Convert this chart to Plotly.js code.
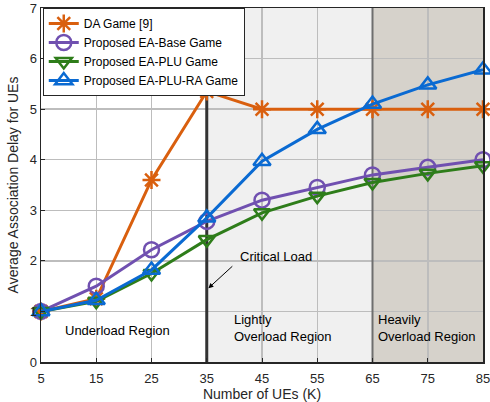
<!DOCTYPE html>
<html>
<head>
<meta charset="utf-8">
<script src="https://cdn.plot.ly/plotly-3.0.1.min.js"></script>
<style>html,body{margin:0;padding:0;background:#fff;}#chart{width:490px;height:402px;}</style>
</head>
<body>
<div id="chart"></div>
<script>
const ues = [5, 15, 25, 35, 45, 55, 65, 75, 85];
const seriesNames = ["DA Game [9]", "Proposed EA-Base Game", "Proposed EA-PLU Game", "Proposed EA-PLU-RA Game"];
const daGame = [1.0, 1.25, 3.6, 5.35, 5.0, 5.0, 5.0, 5.0, 5.0];
const eaBase = [1.0, 1.5, 2.22, 2.78, 3.2, 3.45, 3.7, 3.85, 4.0];
const eaPlu = [1.0, 1.2, 1.75, 2.42, 2.95, 3.28, 3.55, 3.73, 3.88];
const eaPluRa = [1.0, 1.22, 1.82, 2.85, 3.97, 4.6, 5.1, 5.48, 5.78];
const xTicks = [5, 15, 25, 35, 45, 55, 65, 75, 85];
const yTicks = [0, 1, 2, 3, 4, 5, 6, 7];

const colors = ["#d95f0e", "#7050b0", "#2e7d1a", "#0a6ad2"];
const symbols = ["asterisk-open", "circle-open", "triangle-down-open", "triangle-up-open"];
const sizes = [15, 15, 14, 15];
const allSeries = [daGame, eaBase, eaPlu, eaPluRa];

const traces = allSeries.map((ys, i) => ({
  x: ues, y: ys, name: seriesNames[i], type: "scatter", mode: "lines+markers",
  cliponaxis: false,
  line: {color: colors[i], width: 3},
  marker: {symbol: symbols[i], size: sizes[i], color: colors[i],
           line: {color: colors[i], width: 2.5}}
}));

const font = "Liberation Sans, Arial, sans-serif";
const layout = {
  width: 490, height: 402,
  margin: {l: 41, r: 7, t: 8, b: 40},
  paper_bgcolor: "#ffffff", plot_bgcolor: "#ffffff",
  font: {family: font, size: 13, color: "#262626"},
  showlegend: true,
  legend: {x: 0.004, y: 1.0, xanchor: "left", yanchor: "top",
           bgcolor: "#ffffff", bordercolor: "#262626", borderwidth: 1,
           font: {family: font, size: 12, color: "#000"},
           tracegroupgap: 0, itemwidth: 30},
  xaxis: {range: [5, 85], tickvals: xTicks, ticktext: xTicks.map(String),
          ticklabeloverflow: "allow",
          showgrid: true, gridcolor: "#bdbdbd", gridwidth: 1.5,
          zeroline: false, showline: true, linecolor: "#262626", linewidth: 1.5, mirror: true,
          ticks: "inside", ticklen: 4, tickcolor: "#262626", ticklabelstandoff: 4,
          tickfont: {size: 13, color: "#262626"},
          title: {text: "Number of UEs (K)", font: {size: 14, color: "#262626"}, standoff: 2}},
  yaxis: {range: [0, 7], tickvals: yTicks, ticktext: yTicks.map(String),
          ticklabeloverflow: "allow",
          showgrid: true, gridcolor: "#bdbdbd", gridwidth: 1.5,
          zeroline: false, showline: true, linecolor: "#262626", linewidth: 1.5, mirror: true,
          ticks: "inside", ticklen: 4, tickcolor: "#262626",
          tickfont: {size: 13, color: "#262626"},
          title: {text: "Average Association Delay for UEs", font: {size: 14, color: "#262626"}, standoff: 8}},
  shapes: [
    {type: "rect", xref: "x", yref: "y", x0: 35, x1: 65, y0: 0, y1: 7, layer: "below",
     fillcolor: "#f0f0f0", line: {width: 0}},
    {type: "rect", xref: "x", yref: "y", x0: 65, x1: 85, y0: 0, y1: 7, layer: "below",
     fillcolor: "#d6d2cb", line: {width: 0}},
    {type: "line", xref: "x", yref: "y", x0: 35, x1: 35, y0: 0, y1: 7, layer: "between",
     line: {color: "#333333", width: 3}},
    {type: "line", xref: "x", yref: "y", x0: 65, x1: 65, y0: 0, y1: 7, layer: "between",
     line: {color: "#6e6e6e", width: 2}}
  ],
  annotations: [
    {x: 40.6, y: 2.08, xref: "x", yref: "y", text: "Critical Load", showarrow: false,
     xanchor: "left", yanchor: "middle", font: {size: 13, color: "#000"}},
    {x: 35.3, y: 1.46, xref: "x", yref: "y", ax: 39.9, ay: 1.92, axref: "x", ayref: "y",
     text: "", showarrow: true, arrowhead: 2, arrowsize: 1, arrowwidth: 1, arrowcolor: "#000"},
    {x: 18.9, y: 0.63, xref: "x", yref: "y", text: "Underload Region", showarrow: false,
     xanchor: "center", yanchor: "middle", font: {size: 13, color: "#000"}},
    {x: 39.6, y: 0.67, xref: "x", yref: "y", text: "Lightly<br>Overload Region", showarrow: false,
     xanchor: "left", yanchor: "middle", align: "left", font: {size: 13, color: "#000"}},
    {x: 65.6, y: 0.67, xref: "x", yref: "y", text: "Heavily<br>Overload Region", showarrow: false,
     xanchor: "left", yanchor: "middle", align: "left", font: {size: 13, color: "#000"}}
  ]
};

Plotly.newPlot("chart", traces, layout, {displayModeBar: false, staticPlot: true});
</script>
</body>
</html>
